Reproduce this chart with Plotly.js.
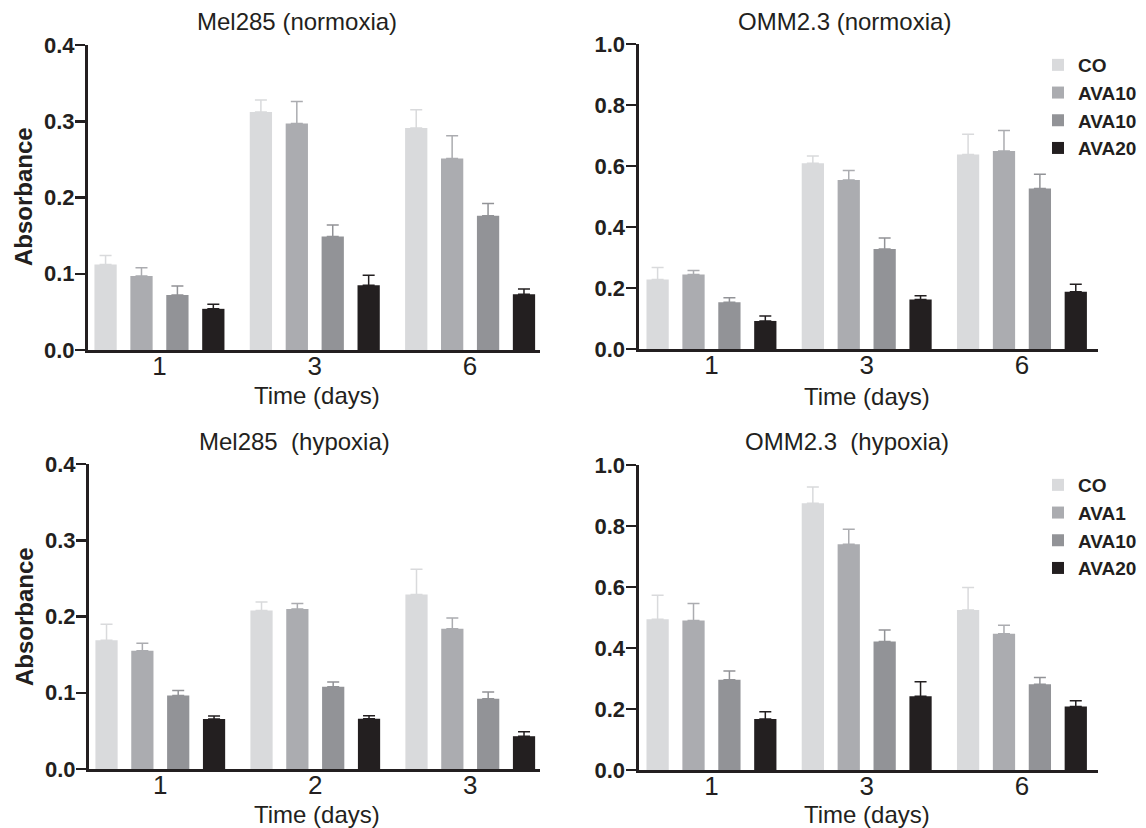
<!DOCTYPE html>
<html>
<head>
<meta charset="utf-8">
<script src="https://cdn.plot.ly/plotly-3.0.1.min.js"></script>
<style>html,body{margin:0;padding:0;background:#fff;}#chart{width:1146px;height:828px;}</style>
</head>
<body>
<div id="chart"></div>
<script>
// ---------- data ----------
const daysA = ['1', '3', '6'];
const daysB = ['1', '2', '3'];

// Mel285 (normoxia)
const melNormCO    = [0.112, 0.312, 0.291];
const melNormCOErr = [0.012, 0.016, 0.024];
const melNormA1    = [0.097, 0.297, 0.251];
const melNormA1Err = [0.011, 0.029, 0.030];
const melNormA10   = [0.072, 0.149, 0.176];
const melNormA10Err= [0.012, 0.015, 0.016];
const melNormA20   = [0.054, 0.085, 0.073];
const melNormA20Err= [0.006, 0.013, 0.007];

// OMM2.3 (normoxia)
const ommNormCO    = [0.228, 0.609, 0.638];
const ommNormCOErr = [0.039, 0.024, 0.066];
const ommNormA1    = [0.244, 0.554, 0.649];
const ommNormA1Err = [0.013, 0.031, 0.067];
const ommNormA10   = [0.153, 0.328, 0.526];
const ommNormA10Err= [0.015, 0.036, 0.047];
const ommNormA20   = [0.092, 0.162, 0.188];
const ommNormA20Err= [0.016, 0.013, 0.024];

// Mel285 (hypoxia)
const melHypCO     = [0.169, 0.208, 0.229];
const melHypCOErr  = [0.021, 0.011, 0.033];
const melHypA1     = [0.155, 0.210, 0.184];
const melHypA1Err  = [0.010, 0.007, 0.014];
const melHypA10    = [0.0965, 0.108, 0.092];
const melHypA10Err = [0.0065, 0.006, 0.009];
const melHypA20    = [0.0655, 0.066, 0.043];
const melHypA20Err = [0.004, 0.004, 0.006];

// OMM2.3 (hypoxia)
const ommHypCO     = [0.494, 0.875, 0.525];
const ommHypCOErr  = [0.079, 0.053, 0.073];
const ommHypA1     = [0.490, 0.740, 0.447];
const ommHypA1Err  = [0.056, 0.049, 0.028];
const ommHypA10    = [0.296, 0.421, 0.281];
const ommHypA10Err = [0.029, 0.038, 0.022];
const ommHypA20    = [0.167, 0.242, 0.208];
const ommHypA20Err = [0.024, 0.047, 0.019];

const namesNorm = ['CO', 'AVA10', 'AVA10', 'AVA20'];
const namesHyp  = ['CO', 'AVA1', 'AVA10', 'AVA20'];

const titles = ['Mel285 (normoxia)', 'OMM2.3 (normoxia)', 'Mel285\u00A0 (hypoxia)', 'OMM2.3\u00A0 (hypoxia)'];
const xTitle = 'Time (days)';
const yTitle = 'Absorbance';
// --------------------------

const colors = ['#d9dadc', '#abacb0', '#929397', '#231f20'];
const ink = '#231f20';
const FONT = 'Liberation Sans, Arial, Helvetica, sans-serif';

function makeTraces(x, vals, errs, names, xa, ya, legendName, show) {
  return vals.map((v, i) => ({
    type: 'bar',
    x: x, y: v,
    name: names[i],
    xaxis: xa, yaxis: ya,
    legend: legendName,
    showlegend: show,
    marker: {color: colors[i], line: {width: 0}},
    error_y: {type: 'data', array: errs[i], arrayminus: errs[i].map(() => 0),
              symmetric: false, color: colors[i], thickness: 1.5, width: 6},
    hoverinfo: 'y'
  }));
}

const data = [].concat(
  makeTraces(daysA, [melNormCO, melNormA1, melNormA10, melNormA20],
             [melNormCOErr, melNormA1Err, melNormA10Err, melNormA20Err], namesNorm, 'x', 'y', 'legend', false),
  makeTraces(daysA, [ommNormCO, ommNormA1, ommNormA10, ommNormA20],
             [ommNormCOErr, ommNormA1Err, ommNormA10Err, ommNormA20Err], namesNorm, 'x2', 'y2', 'legend', true),
  makeTraces(daysB, [melHypCO, melHypA1, melHypA10, melHypA20],
             [melHypCOErr, melHypA1Err, melHypA10Err, melHypA20Err], namesHyp, 'x3', 'y3', 'legend2', false),
  makeTraces(daysA, [ommHypCO, ommHypA1, ommHypA10, ommHypA20],
             [ommHypCOErr, ommHypA1Err, ommHypA10Err, ommHypA20Err], namesHyp, 'x4', 'y4', 'legend2', true)
);

const W = 1146, H = 828;
const px = v => v / W;
const py = v => 1 - v / H;

function xAxis(d0, d1, anchor, range) {
  return {
    domain: [px(d0), px(d1)], anchor: anchor, type: 'category', range: range,
    showline: true, linewidth: 3, linecolor: ink, ticks: '', showgrid: false, zeroline: false,
    tickfont: {family: FONT, size: 26, color: ink}, ticklabelstandoff: -9, fixedrange: true
  };
}
function yAxis(top, bot, anchor, max, dtick) {
  return {
    domain: [py(bot), py(top)], anchor: anchor, range: [0, max], dtick: dtick, tick0: 0,
    tickformat: '.1f', showline: true, linewidth: 3, linecolor: ink,
    ticks: 'outside', ticklen: 10, tickwidth: 2.5, tickcolor: ink,
    showgrid: false, zeroline: false, ticklabelstandoff: -4,
    tickfont: {family: FONT, size: 22, color: ink, weight: 'bold'}, fixedrange: true
  };
}

const ann = [];
function txt(text, x, y, size, weight, angle) {
  ann.push({text: text, xref: 'paper', yref: 'paper', x: px(x), y: py(y), xanchor: 'center', yanchor: 'middle',
            showarrow: false, textangle: angle || 0, font: {family: FONT, size: size, color: ink, weight: weight}});
}
txt(titles[0], 297, 21, 24, 'normal');
txt(titles[1], 844, 21, 24, 'normal');
txt(titles[2], 294, 441, 24, 'normal');
txt(titles[3], 847, 441, 24, 'normal');
txt(xTitle, 317, 395, 24, 'normal');
txt(xTitle, 867, 396, 24, 'normal');
txt(xTitle, 317, 814, 24, 'normal');
txt(xTitle, 867, 814, 24, 'normal');
txt(yTitle, 24, 197, 24, 'bold', -90);
txt(yTitle, 24, 617, 24, 'bold', -90);

const legendStyle = (top) => ({
  x: px(1038), y: py(top), xanchor: 'left', yanchor: 'top', bgcolor: 'rgba(0,0,0,0)',
  font: {family: FONT, size: 19, color: ink, weight: 'bold'}, tracegroupgap: 0, itemclick: false, itemdoubleclick: false
});

const layout = {
  width: W, height: H,
  margin: {l: 0, r: 0, t: 0, b: 0},
  paper_bgcolor: '#ffffff', plot_bgcolor: '#ffffff',
  barmode: 'group', bargap: 0.075, bargroupgap: 0.38,
  showlegend: true,
  legend: legendStyle(46),
  legend2: legendStyle(466),
  xaxis:  xAxis(88, 540, 'y', [-0.46, 2.45]),
  yaxis:  yAxis(45, 350, 'x', 0.4, 0.1),
  xaxis2: xAxis(638.5, 1098, 'y2', [-0.47, 2.49]),
  yaxis2: yAxis(44, 349, 'x2', 1.0, 0.2),
  xaxis3: xAxis(89, 540, 'y3', [-0.46, 2.45]),
  yaxis3: yAxis(464, 769, 'x3', 0.4, 0.1),
  xaxis4: xAxis(638.5, 1098, 'y4', [-0.47, 2.49]),
  yaxis4: yAxis(465, 770, 'x4', 1.0, 0.2),
  annotations: ann
};

Plotly.newPlot('chart', data, layout, {displayModeBar: false, staticPlot: true});
</script>
</body>
</html>
